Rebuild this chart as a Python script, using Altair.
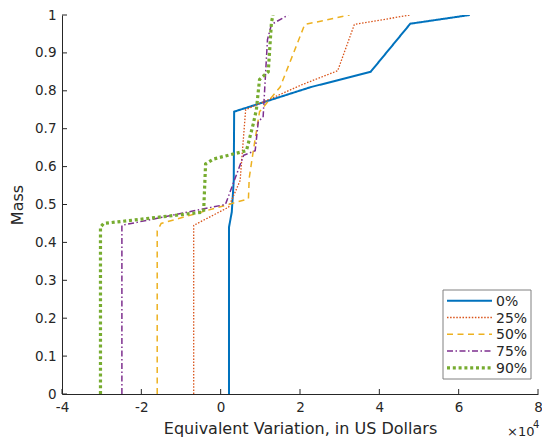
import altair as alt
import pandas as pd

series = ["0%", "25%", "50%", "75%", "90%"]
colors = ["#0072BD", "#D95319", "#EDB120", "#7E2F8E", "#77AC30"]
dashes = [[1, 0], [1.5, 1.6], [6, 4.5], [6, 2.5, 1.5, 2.5], [3, 2.8]]
widths = [2, 1.3, 1.5, 1.5, 3.2]

ev_0 = [2100, 2100, 2800, 3300, 3400, 22800, 37800, 47800, 62800]
mass_0 = [0, 0.44, 0.48, 0.563, 0.745, 0.81, 0.85, 0.977, 1.0]
ev_25 = [-6800, -6800, 2000, 4900, 6300, 20700, 29500, 33700, 47800]
mass_25 = [0, 0.445, 0.493, 0.563, 0.75, 0.817, 0.853, 0.975, 1.0]
ev_50 = [-16000, -16000, -15000, 7000, 7200, 8200, 9800, 15000, 21200, 32500]
mass_50 = [0, 0.43, 0.45, 0.515, 0.57, 0.64, 0.745, 0.81, 0.975, 1.0]
ev_75 = [-24900, -24900, 1200, 5800, 8700, 9500, 10700, 11800, 12800, 17000]
mass_75 = [0, 0.445, 0.50, 0.63, 0.642, 0.72, 0.73, 0.935, 0.975, 1.0]
ev_90 = [-30300, -30300, -29500, -4300, -3800, -1800, 6500, 8200, 9000, 9800, 12000, 12800, 13200]
mass_90 = [0, 0.44, 0.45, 0.48, 0.607, 0.62, 0.642, 0.712, 0.75, 0.83, 0.85, 0.98, 1.0]

x_ticks = [-40000, -20000, 0, 20000, 40000, 60000, 80000]
y_ticks = [0, 0.1, 0.2, 0.3, 0.4, 0.5, 0.6, 0.7, 0.8, 0.9, 1.0]

all_ev = [ev_0, ev_25, ev_50, ev_75, ev_90]
all_mass = [mass_0, mass_25, mass_50, mass_75, mass_90]

rows = []
for name, xs, ys in zip(series, all_ev, all_mass):
    for i, (xv, yv) in enumerate(zip(xs, ys)):
        rows.append({"series": name, "ev": xv, "mass": yv, "i": i})
df = pd.DataFrame(rows)

FONT = "DejaVu Sans"
TXT = "#262626"
W, H = 476, 379

xscale = alt.Scale(domain=[-40000, 80000], nice=False, zero=False)
yscale = alt.Scale(domain=[0, 1], nice=False)

x_axis = alt.Axis(
    values=x_ticks, title="Equivalent Variation, in US Dollars",
    labelExpr="(datum.value < 0 ? '-' : '') + abs(datum.value / 10000)",
    tickSize=0, labelPadding=6, titlePadding=7, grid=False)
y_axis = alt.Axis(
    values=y_ticks, title="Mass", tickSize=0, labelPadding=6,
    labelExpr="format(datum.value, '.1~f')",
    titlePadding=9, grid=False)

layers = []
for k, name in enumerate(series):
    layers.append(
        alt.Chart(df).transform_filter(alt.datum.series == name)
        .mark_line(clip=True, color=colors[k], strokeDash=dashes[k],
                   strokeWidth=widths[k], strokeCap="butt", strokeJoin="miter")
        .encode(x=alt.X("ev:Q", scale=xscale, axis=x_axis),
                y=alt.Y("mass:Q", scale=yscale, axis=y_axis),
                order=alt.Order("i:Q"))
    )

tick_df = pd.DataFrame({"ev": x_ticks})
ytick_df = pd.DataFrame({"mass": y_ticks})
xtick = alt.Chart(tick_df).mark_rule(color=TXT, strokeWidth=1).encode(
    x=alt.X("ev:Q", scale=xscale, axis=x_axis), y=alt.value(H), y2=alt.value(H - 5))
ytick = alt.Chart(ytick_df).mark_rule(color=TXT, strokeWidth=1).encode(
    y=alt.Y("mass:Q", scale=yscale, axis=y_axis), x=alt.value(0), x2=alt.value(5))
layers += [xtick, ytick]

# legend box
one = pd.DataFrame({"a": [0]})
layers.append(alt.Chart(one).mark_rect(fill="white", stroke="#808080", strokeWidth=1).encode(
    x=alt.value(381), x2=alt.value(469), y=alt.value(275), y2=alt.value(364)))
leg_df = pd.DataFrame({"series": series})
for k, name in enumerate(series):
    ry = 285.7 + k * 16.8
    sub = alt.Chart(leg_df).transform_filter(alt.datum.series == name)
    layers.append(sub.mark_rule(color=colors[k], strokeDash=dashes[k],
                                strokeWidth=widths[k], strokeCap="butt").encode(
        x=alt.value(385), x2=alt.value(430), y=alt.value(ry)))
    layers.append(sub.mark_text(font=FONT, fontSize=14, color=TXT, align="left",
                                baseline="middle").encode(
        text="series:N", x=alt.value(434), y=alt.value(ry + 1)))

exp = pd.DataFrame({"t": ["\u00d710"], "s": ["4"]})
layers.append(alt.Chart(exp).mark_text(font=FONT, fontSize=13, color=TXT, align="left",
                                       baseline="alphabetic").encode(
    text="t:N", x=alt.value(445), y=alt.value(421)))
layers.append(alt.Chart(exp).mark_text(font=FONT, fontSize=10, color=TXT, align="left",
                                       baseline="alphabetic").encode(
    text="s:N", x=alt.value(471), y=alt.value(413)))

chart = alt.layer(*layers).properties(
    width=W, height=H, autosize="none",
    padding={"left": 54, "top": 7, "right": 4, "bottom": 45},
).configure_view(stroke=None).configure_axis(
    labelFont=FONT, titleFont=FONT, labelFontSize=13.5, titleFontSize=16,
    labelColor=TXT, titleColor=TXT, domainColor=TXT, titleFontWeight="normal",
    labelFlush=False, labelOverlap=False,
)

chart.save("out.html", embed_options={"renderer": "svg", "actions": False})
